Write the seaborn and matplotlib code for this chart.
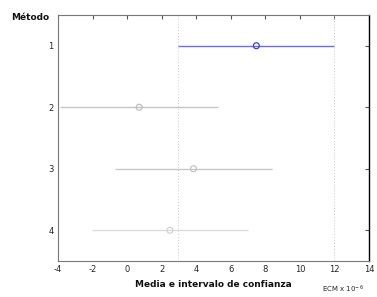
import matplotlib
matplotlib.use("Agg")
import matplotlib.pyplot as plt
import seaborn as sns
import pandas as pd

methods = [1, 2, 3, 4]
means = [7.48, 0.70, 3.84, 2.48]
lower = [2.95, -3.86, -0.70, -2.05]
upper = [12.0, 5.24, 8.37, 7.01]
colors = ["#6b6bff", "#c4c4c4", "#c8c8c8", "#dcdcdc"]
marker_colors = ["#3a3aff", "#c0c0c0", "#c4c4c4", "#d4d4d4"]
x_ticks = [-4, -2, 0, 2, 4, 6, 8, 10, 12, 14]

df = pd.DataFrame({"Método": methods, "media": means, "lo": lower, "hi": upper})

sns.set_style("white")
plt.rcParams["font.family"] = ["DejaVu Sans"]

fig = plt.figure(figsize=(3.77, 2.97), dpi=100)
ax = fig.add_axes([58 / 377, 1 - 261 / 297, (369 - 58) / 377, (261 - 15) / 297])

# reference lines at the limits of the selected interval
for xv in (lower[0], upper[0]):
    ax.axvline(xv, color="#cccccc", linestyle=(0, (1, 2)), linewidth=0.7, zorder=1)

for i, row in df.iterrows():
    ax.hlines(row["Método"], row["lo"], row["hi"], color=colors[i], linewidth=1.0, zorder=2)

n_before = len(ax.collections)
sns.scatterplot(data=df, x="media", y="Método", hue="Método", palette=marker_colors,
                marker="o", s=18, linewidth=0.9, legend=False, ax=ax, zorder=3)
for coll in ax.collections[n_before:]:
    coll.set_facecolor("none")
    coll.set_edgecolor(marker_colors)

ax.set_xlim(-4, 14)
ax.set_ylim(4.5, 0.5)
ax.set_xticks(x_ticks)
ax.set_xticklabels([str(t) for t in x_ticks])
ax.set_yticks(methods)
ax.set_yticklabels([str(m) for m in methods])
ax.tick_params(axis="both", direction="in", length=3, width=0.8, labelsize=6,
               top=True, right=True, color="#555555", pad=3)
for s in ["left", "bottom", "top"]:
    ax.spines[s].set_color("#777777")
    ax.spines[s].set_linewidth(0.8)
ax.spines["right"].set_color("#000000")
ax.spines["right"].set_linewidth(1.0)

ax.set_xlabel("Media e intervalo de confianza", fontsize=6.5, fontweight="bold",
              labelpad=4, color="#111111")
ax.set_ylabel("")
fig.text(30 / 377, 1 - 17 / 297, "Método", fontsize=6.5, fontweight="bold",
         ha="center", va="center", color="#111111")
fig.text(343 / 377, 1 - 289 / 297, r"ECM x $10^{-6}$", fontsize=5, ha="center", va="center")

fig.savefig("out.png", dpi=100)
